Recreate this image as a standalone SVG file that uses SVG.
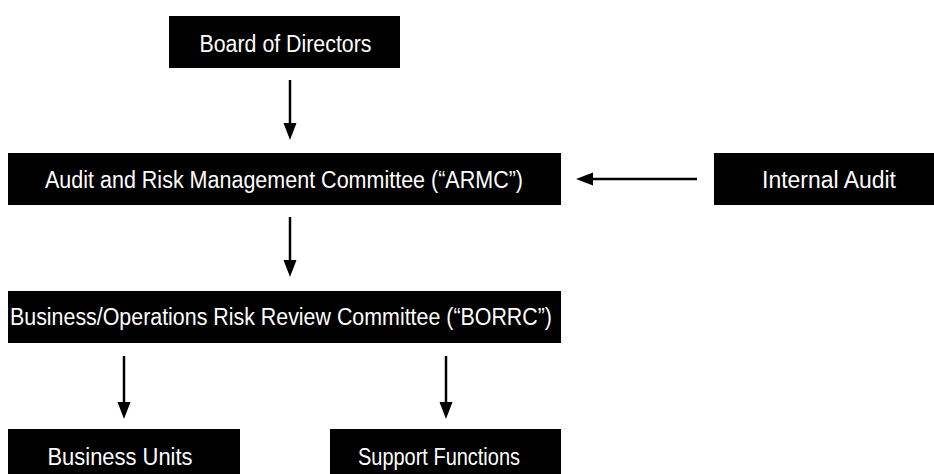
<svg xmlns="http://www.w3.org/2000/svg" width="934" height="474" viewBox="0 0 934 474">
  <style>
    .box { fill: #000000; }
    .lbl { fill: #ffffff; font-family: "Liberation Sans", Arial, sans-serif; font-size: 23px; text-anchor: middle; }
    .conn { stroke: #000000; stroke-width: 2.5; fill: none; marker-end: url(#ah); }
  </style>
  <defs>
    <marker id="ah" markerUnits="userSpaceOnUse" markerWidth="18" markerHeight="14" refX="9" refY="6.5" orient="auto" viewBox="0 0 18 13">
      <path d="M0,0 L17,6.5 L0,13 z" fill="#000000"/>
    </marker>
  </defs>
  <rect width="934" height="474" fill="#ffffff"/>
  <g id="board">
    <rect class="box" x="169" y="16" width="231" height="52"/>
    <text class="lbl" x="285.5" y="52" textLength="172" lengthAdjust="spacingAndGlyphs">Board of Directors</text>
  </g>
  <g id="armc">
    <rect class="box" x="8" y="153" width="553" height="52"/>
    <text class="lbl" x="284" y="188" textLength="478" lengthAdjust="spacingAndGlyphs">Audit and Risk Management Committee (“ARMC”)</text>
  </g>
  <g id="internal-audit">
    <rect class="box" x="714" y="153" width="220" height="52"/>
    <text class="lbl" x="829" y="188" textLength="134" lengthAdjust="spacingAndGlyphs">Internal Audit</text>
  </g>
  <g id="borrc">
    <rect class="box" x="8" y="291" width="553" height="52"/>
    <text class="lbl" x="281" y="325" textLength="542" lengthAdjust="spacingAndGlyphs">Business/Operations Risk Review Committee (“BORRC”)</text>
  </g>
  <g id="business-units">
    <rect class="box" x="8" y="429" width="232" height="52"/>
    <text class="lbl" x="120" y="465" textLength="145" lengthAdjust="spacingAndGlyphs">Business Units</text>
  </g>
  <g id="support-functions">
    <rect class="box" x="330" y="429" width="231" height="52"/>
    <text class="lbl" x="439" y="465" textLength="162" lengthAdjust="spacingAndGlyphs">Support Functions</text>
  </g>
  <g id="connectors">
    <path class="conn" d="M290,80 L290,132"/>
    <path class="conn" d="M290,217 L290,269"/>
    <path class="conn" d="M697,179 L584,179"/>
    <path class="conn" d="M124,356 L124,411"/>
    <path class="conn" d="M446,356 L446,411"/>
  </g>
</svg>
